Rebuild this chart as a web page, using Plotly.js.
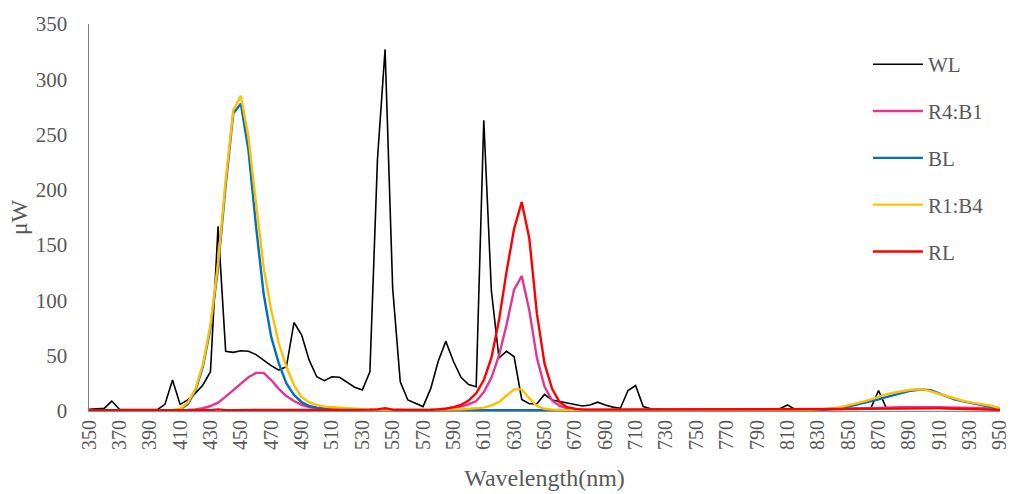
<!DOCTYPE html>
<html>
<head>
<meta charset="utf-8">
<script src="https://cdn.plot.ly/plotly-3.0.1.min.js"></script>
<style>html,body{margin:0;padding:0;background:#fff;}#chart{width:1011px;height:494px;}</style>
</head>
<body>
<div id="chart"></div>
<script>
const wavelength = [350,355,360,365,370,375,380,385,390,395,400,405,410,415,420,425,430,435,440,445,450,455,460,465,470,475,480,485,490,495,500,505,510,515,520,525,530,535,540,545,550,555,560,565,570,575,580,585,590,595,600,605,610,615,620,625,630,635,640,645,650,655,660,665,670,675,680,685,690,695,700,705,710,715,720,725,730,735,740,745,750,755,760,765,770,775,780,785,790,795,800,805,810,815,820,825,830,835,840,845,850,855,860,865,870,875,880,885,890,895,900,905,910,915,920,925,930,935,940,945,950];

const WL = [1.5,1.8,2.4,9,1.5,1.2,1.2,1.2,1,1.2,6,28,6,10,16,23.5,35.5,167,54,53,54.5,54,51,46,41,37,40,80,69,46,31,27.5,31,30.5,26,21.5,19,35.5,228,327,111,26.5,10,7,4,20,45,63,45,30.5,24,22,263,109,48,54,49,10.5,6.5,6.5,15,10,8.5,7,5.5,4.5,5.5,8,5.5,3.5,2.5,18.5,23,4,2,1.5,1.5,1.5,1.5,1.5,1.5,1.5,1.5,1.5,1.5,1.5,1.5,1.5,1.5,1.5,2,2,5.5,1.5,1.5,1.5,1.5,2,2,2.2,2.5,2.5,2.5,2.7,18.5,3,3,3,3,3,3,3,3,2.8,2.7,2.5,2.5,2.3,2,1.8,1.5];

const R4B1 = [0.5,0.5,0.5,0.5,0.5,0.5,0.5,0.5,0.5,0.5,0.5,0.5,0.5,1,1.5,2.5,4.5,7.5,13,19,25,30.5,34.5,34.5,28,20,13.5,9,5.5,3.5,2.5,2,1.5,1.2,1,1,1,1,1,1,1,1,1,1,1,1,1.5,2,3,4,6,9,17,30,50,78,110,122,91,48,22,9.5,4.5,2.5,1.5,1,1,1,1,1,1,1,1,1,1,1,1,1,1,1,1,1,1,1,1,1,1,1,1,1,1,1,1,1,1,1,1.2,1.3,1.5,1.7,2,2.2,2.5,2.7,3,3.2,3.3,3.4,3.5,3.5,3.5,3.5,3.4,3.3,3,3,2.8,2.7,2.5,2,1.5];

const BL = [0.3,0.3,0.3,0.3,0.3,0.3,0.3,0.3,0.3,0.3,0.3,0.3,1.5,6,18,40,75,130,204,269,278,236,167,106,67,43,25,14.5,8,4.5,3,2,1.5,1,0.7,0.5,0.5,0.5,0.5,0.5,0.5,0.5,0.5,0.5,0.5,0.5,0.5,0.5,0.5,0.5,0.5,0.5,0.5,0.5,0.5,0.5,0.5,0.5,0.5,0.5,0.5,0.5,0.5,0.5,0.5,0.5,0.5,0.5,0.5,0.5,0.5,0.5,0.5,0.5,0.5,0.5,0.5,0.5,0.5,0.5,0.5,0.5,0.5,0.5,0.5,0.5,0.5,0.5,0.5,0.5,0.5,0.5,0.5,0.5,0.6,0.7,1,1.4,2,2.8,4,5.5,7,8.5,10.5,12.5,14.5,16.5,18,19,19.5,18.5,16,13,10.5,9,7.5,6.5,5,3.5,2];

const R1B4 = [0.3,0.3,0.3,0.3,0.3,0.3,0.3,0.3,0.3,0.3,0.3,0.8,2,7.5,19.6,42,78,134,209,272,285,248,188,130,91,61,40,23.5,12.6,8,5.4,4,3.4,2.8,2.4,2,1.6,1.4,1.2,1.1,1,1,1,1,1,1,1,1,1,1.5,2,2.5,3,5,8,14,19.6,19.6,11.5,4.5,2,1.2,0.8,0.8,0.8,0.8,0.8,0.8,0.8,0.8,0.8,0.8,0.8,0.8,0.8,0.8,0.8,0.8,0.8,0.8,0.8,0.8,0.8,0.8,0.8,0.8,0.8,0.8,0.8,0.8,0.8,0.8,0.8,0.8,0.9,1,1.5,1.9,2.5,3.5,5,6.5,8.5,10.5,13,15,16.5,18,19,19.6,19.5,17.5,15.5,13,11,9.5,8,7,6,4.5,2.4];

const RL = [0.8,0.8,0.8,0.8,0.8,0.8,0.8,0.8,0.8,0.8,0.8,0.8,0.8,0.8,0.8,0.8,0.8,1.5,0.8,0.8,0.8,0.8,0.8,0.8,0.8,0.8,0.8,0.8,0.8,0.8,0.8,0.8,0.8,0.8,0.8,0.8,1,1.2,1.5,2.5,1.2,0.8,0.8,0.8,0.8,1,1.5,2,3.5,5.5,9.5,16,28,48,82,126,165,189,156,88,43,20,8,3.5,2,1.2,1.2,1.2,1.2,1.2,1.2,1.2,1.2,1.2,1.2,1.2,1.2,1.2,1.2,1.2,1.2,1.2,1.2,1.2,1.2,1.2,1.2,1.2,1.2,1.2,1.2,1.2,1.2,1.2,1.2,1.2,1.3,1.4,1.5,1.6,1.7,1.8,1.9,2,2.1,2.2,2.3,2.4,2.4,2.5,2.5,2.5,2.4,2.3,2.2,2.1,2,1.9,1.7,1.4,1];

const seriesNames = ['WL','R4:B1','BL','R1:B4','RL'];
const seriesData = [WL, R4B1, BL, R1B4, RL];
const seriesColors = ['#000000','#E5358E','#0070C0','#FFC000','#FF0000'];
const seriesWidths = [1.6, 2.4, 2.4, 2.4, 2.4];

const xTicks = [350,370,390,410,430,450,470,490,510,530,550,570,590,610,630,650,670,690,710,730,750,770,790,810,830,850,870,890,910,930,950];

const traces = seriesNames.map((n,i)=>({
  x: wavelength, y: seriesData[i], name: n, type: 'scatter', mode: 'lines',
  line: {color: seriesColors[i], width: seriesWidths[i]},
  legendgroup: 'g'+i
}));

const fontFam = '"Liberation Serif", "Times New Roman", serif';
const gray = '#595959';

const layout = {
  width: 1011, height: 494,
  margin: {l: 89, r: 11, t: 24, b: 83},
  paper_bgcolor: '#fff', plot_bgcolor: '#fff',
  font: {family: fontFam, color: gray, size: 21},
  showlegend: true,
  legend: {x: 0.855, y: 0.948, xanchor: 'left', yanchor: 'top', font: {family: fontFam, size: 21, color: gray}, tracegroupgap: 16.5, itemwidth: 50, bgcolor: 'rgba(0,0,0,0)'},
  xaxis: {
    range: [349.99, 950.01], tickmode: 'array', tickvals: xTicks, ticktext: xTicks.map(String),
    tickangle: -90, ticklabeloverflow: 'allow', showgrid: false, zeroline: false, showline: true, linecolor: '#8c8c8c', linewidth: 1,
    ticks: '', tickfont: {family: fontFam, size: 20, color: gray},
    title: {text: 'Wavelength(nm)', font: {family: fontFam, size: 24, color: gray}, standoff: 20}
  },
  yaxis: {
    range: [0, 350], dtick: 50, showgrid: false, zeroline: false, showline: true, linecolor: '#7f7f7f', linewidth: 1.5,
    ticks: '', ticklabelstandoff: 16, tickfont: {family: fontFam, size: 21, color: gray},
    title: {text: 'μW', font: {family: fontFam, size: 24, color: gray}, standoff: 1}
  }
};

Plotly.newPlot('chart', traces, layout, {displayModeBar: false, staticPlot: true});
</script>
</body>
</html>
